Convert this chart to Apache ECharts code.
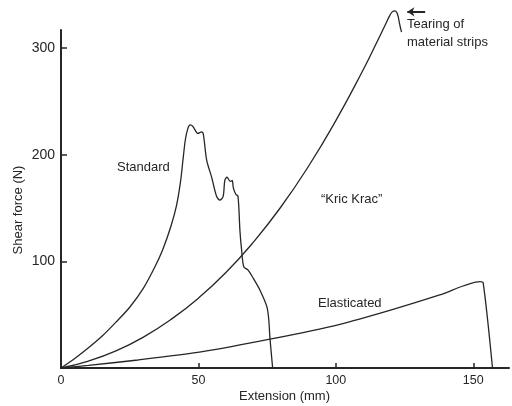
<!DOCTYPE html>
<html>
<head>
<meta charset="utf-8">
<script src="https://cdn.jsdelivr.net/npm/echarts@6/dist/echarts.min.js"></script>
<style>
html,body{margin:0;padding:0;background:#fff;}
#c{width:512px;height:406px;}
</style>
</head>
<body>
<div id="c"></div>
<script>
// Extension (mm), Shear force (N)
const standardData = [
  [0,0],[5,9],[10,19],[15,30],[20,43],[25,57],[30,75],[34,94],[37,111],[40,133],[42,152],
  [43.5,175],[44.5,198],[45.3,215],[46.2,225],[47,228],[48,226.5],[49.8,220],[51.2,221.5],[51.8,219],
  [53,195],[54.8,179],[56.6,161],[57.8,157.5],[59,161],[59.6,176],[60.4,179],[61.2,176],[61.8,175],
  [62.3,176],[62.7,169],[63.6,163],[64.4,161],[65.1,129],[65.7,111],[66.5,95],[68,92],[70,84],
  [72.4,73],[74.9,57.5],[75.6,45],[76,29],[77,0]
];
const kricKracData = [
  [0,0],[10,6.5],[20,16],[30,29],[40,45.5],[50,65.5],[60,89.5],[70,118],[80,151],[90,189],
  [100,232],[110,280],[115,306],[118,322],[119.5,330],[120.5,334],[121.5,335],[122.4,332],
  [123.1,324],[123.6,318],[123.9,315]
];
const elasticatedData = [
  [0,0],[10,2.5],[28,7.5],[52,15.5],[76,27],[101.5,41],[119.6,54],[137.8,68.5],[152.4,81],
  [153.6,80],[157,0]
];
const tearArrow = [[132.5,334],[126,334]];
const xTicks = { min: 0, max: 163, interval: 50 };
const yTicks = { min: 0, max: 317, interval: 100 };

const ink = '#262626';
const font = '"Liberation Sans", Arial, sans-serif';

const chart = echarts.init(document.getElementById('c'), null, {renderer:'canvas'});
const lineStyle = {color: ink, width: 1.3};
chart.setOption({
  animation: false,
  backgroundColor: '#fff',
  grid: {left: 61, right: 3, top: 30, bottom: 38, containLabel: false},
  xAxis: {
    type: 'value', min: xTicks.min, max: xTicks.max, interval: xTicks.interval,
    axisLine: {lineStyle: {color: ink, width: 2}},
    axisTick: {inside: true, length: 5, lineStyle: {color: ink, width: 1.5}},
    axisLabel: {color: ink, fontSize: 12.5, fontFamily: font, margin: 6, showMaxLabel: false},
    splitLine: {show: false}
  },
  yAxis: {
    type: 'value', min: yTicks.min, max: yTicks.max, interval: yTicks.interval,
    axisLine: {show: true, lineStyle: {color: ink, width: 2}},
    axisTick: {show: true, inside: true, length: 6, lineStyle: {color: ink, width: 1.5}},
    axisLabel: {color: ink, fontSize: 14, fontFamily: font, margin: 6, showMinLabel: false, showMaxLabel: false},
    splitLine: {show: false}
  },
  series: [
    {type: 'line', name: 'Standard', data: standardData, showSymbol: false, symbol: 'none', lineStyle: lineStyle, clip: false, smooth: 0.3},
    {type: 'line', name: 'Kric Krac', data: kricKracData, showSymbol: false, symbol: 'none', lineStyle: lineStyle, clip: false, smooth: 0.5},
    {type: 'line', name: 'Elasticated', data: elasticatedData, showSymbol: false, symbol: 'none', lineStyle: lineStyle, clip: false, smooth: 0.25},
    {type: 'lines', name: 'arrow', coordinateSystem: 'cartesian2d', clip: false, silent: true,
      symbol: ['none','arrow'], symbolSize: 7,
      lineStyle: {color: ink, width: 2, opacity: 1},
      data: [{coords: tearArrow}]}
  ],
  graphic: [
    {type: 'text', left: 117, top: 161, style: {text: 'Standard', fill: ink, font: '13px ' + font}},
    {type: 'text', left: 321, top: 193, style: {text: '“Kric Krac”', fill: ink, font: '13px ' + font}},
    {type: 'text', left: 318, top: 297, style: {text: 'Elasticated', fill: ink, font: '13px ' + font}},
    {type: 'text', left: 407, top: 18, style: {text: 'Tearing of', fill: ink, font: '13px ' + font}},
    {type: 'text', left: 407, top: 36, style: {text: 'material strips', fill: ink, font: '13px ' + font}},
    {type: 'text', left: 239, top: 390, style: {text: 'Extension (mm)', fill: ink, font: '13px ' + font}},
    {type: 'text', x: 18, y: 210, rotation: Math.PI/2,
      style: {text: 'Shear force (N)', fill: ink, font: '13px ' + font, align: 'center', verticalAlign: 'middle'}}
  ]
});
</script>
</body>
</html>
